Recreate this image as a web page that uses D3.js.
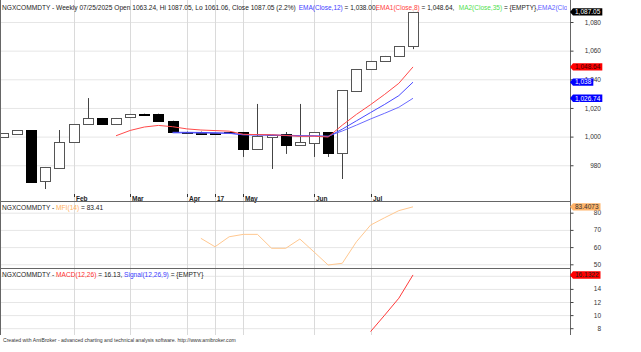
<!DOCTYPE html>
<html>
<head>
<meta charset="utf-8">
<script src="https://cdn.jsdelivr.net/npm/d3@7"></script>
<style>
body { margin: 0; background: #fff; }
svg { display: block; font-family: "Liberation Sans", Arial, sans-serif; }
</style>
</head>
<body>
<div id="chart"></div>
<script>
// weekly bars, 2025
let dates = ["01/03","01/10","01/17","01/24","01/31","02/07","02/14","02/21","02/28","03/07",
             "03/14","03/21","03/28","04/04","04/11","04/17","04/25","05/02","05/09","05/16",
             "05/23","05/30","06/06","06/13","06/20","06/27","07/04","07/11","07/18","07/25"];
let opens  = [999.7,1001.8,1004.6,969.0,978.1,996.2,1008.8,1013.0,1008.8,1013.7,
              1016.0,1016.0,1011.1,1003.5,1003.5,1002.8,1003.0,1003.2,991.3,999.7,
              1001.8,994.1,995.5,1003.2,988.6,1031.8,1047.2,1052.8,1056.3,1063.24];
let highs  = [1002.5,1004.6,1004.6,978.8,1004.6,1008.8,1026.9,1013.0,1013.0,1015.8,
              1016.0,1016.0,1011.1,1003.5,1003.5,1002.8,1003.0,1003.2,1022.8,1001.1,
              1003.2,1022.8,1003.2,1003.2,1032.5,1047.2,1052.8,1056.3,1063.2,1087.05];
let lows   = [999.7,1001.8,968.3,963.4,978.1,996.2,1008.8,1008.8,1008.8,1013.7,
              1015.6,1011.0,1003.4,1002.7,1002.3,1002.5,1002.3,985.8,991.3,977.4,
              987.9,994.1,985.8,985.8,970.4,1031.8,1047.2,1052.8,1056.3,1061.06];
let closes = [1002.5,1004.6,968.3,978.8,996.2,1008.8,1013.0,1008.8,1013.0,1015.8,
              1015.6,1011.0,1003.4,1002.7,1002.3,1002.5,1002.3,991.3,1000.4,1001.1,
              994.1,996.2,1003.2,988.6,1032.5,1047.2,1052.8,1056.3,1063.2,1087.05];

// moving averages (null = not drawn)
let ema8  = [null,null,null,null,null,null,null,null,1000.6,1004.3,
             1006.7,1007.8,1006.9,1005.4,1004.6,1004.2,1003.8,1001.6,1001.4,1001.3,
             1000.8,1000.2,1000.3,999.7,1008.0,1015.5,1022.3,1029.5,1037.2,1048.64];
let ema12 = [null,null,null,null,null,null,null,null,null,null,
             null,null,1003.0,1003.0,1002.9,1002.7,1002.4,1001.2,1001.1,1001.0,
             1000.7,1000.4,1000.4,1000.0,1005.2,1011.0,1016.8,1022.5,1028.6,1038.0];
let ema20 = [null,null,null,null,null,null,null,null,null,null,
             null,null,1002.6,1002.6,1002.5,1002.4,1002.2,1001.5,1001.3,1001.2,
             1000.9,1000.7,1000.6,1000.3,1003.9,1008.0,1012.3,1016.3,1020.5,1026.74];

let mfi  = [null,null,null,null,null,null,null,null,null,null,
            null,null,null,null,65.1,60.2,66.0,67.4,67.4,59.3,
            59.3,64.7,57.2,49.6,50.6,63.1,72.8,77.1,81.2,83.41];
let macd = [null,null,null,null,null,null,null,null,null,null,
            null,null,null,null,null,null,null,null,null,null,
            null,null,null,null,null,null,7.48,10.0,12.58,16.13];

let priceTicks = [980, 1000, 1020, 1040, 1060, 1080];
let mfiTicks = [50, 60, 70, 80];
let macdTicks = [8, 10, 12, 14, 16];
let monthIdx = [5, 9, 13, 15, 17, 22, 26];
let monthLabels = ["Feb", "Mar", "Apr", "17", "May", "Jun", "Jul"];

let width = 641, height = 352, axisX = 570, plotBottom = 335;

let svg = d3.select("#chart").append("svg")
    .attr("width", width)
    .attr("height", height);

svg.append("rect").attr("width", width).attr("height", height).attr("fill", "#fff");

let x = d3.scaleLinear().domain([0, 29]).range([2.9, 413]);
let yP = d3.scaleLinear().domain([980, 1080]).range([165.25, 22]);
let yM = d3.scaleLinear().domain([50, 80]).range([264.3, 212.7]);
let yD = d3.scaleLinear().domain([8, 16]).range([328.2, 275.8]);

let defs = svg.append("defs");
defs.append("clipPath").attr("id", "clipPrice")
  .append("rect").attr("x", 0).attr("y", 0).attr("width", axisX).attr("height", 201);
defs.append("clipPath").attr("id", "clipHead")
  .append("rect").attr("x", 0).attr("y", 0).attr("width", axisX - 3).attr("height", 20);

// horizontal grid
function hgrid(scale, ticks) {
  svg.append("g")
    .attr("transform", "translate(" + axisX + ",0)")
    .call(d3.axisRight(scale).tickValues(ticks).tickSize(-axisX).tickFormat(""))
    .call(g => g.select(".domain").remove())
    .call(g => g.selectAll("line").attr("stroke", "#e6e6e6"));
}
hgrid(yP, priceTicks);
hgrid(yM, mfiTicks);
hgrid(yD, macdTicks);

// vertical grid at month starts
svg.append("g").selectAll("line").data(monthIdx).enter()
  .append("line")
    .attr("x1", d => Math.round(x(d)) + 0.5)
    .attr("x2", d => Math.round(x(d)) + 0.5)
    .attr("y1", 0)
    .attr("y2", plotBottom)
    .attr("stroke", "#dadada");

// x labels
let xl = svg.append("g");
xl.selectAll("line").data(monthIdx).enter()
  .append("line")
    .attr("x1", d => Math.round(x(d)) + 0.5)
    .attr("x2", d => Math.round(x(d)) + 0.5)
    .attr("y1", 194).attr("y2", 197)
    .attr("stroke", "#333");
xl.selectAll("text").data(monthIdx).enter()
  .append("text")
    .attr("x", d => Math.round(x(d)) + 2)
    .attr("y", 200.5)
    .attr("fill", "#222")
    .style("font-size", "6.5px")
    .style("font-weight", "bold")
    .text((d, i) => monthLabels[i]);

// candles
let bars = svg.append("g").attr("clip-path", "url(#clipPrice)");
let bw = 10;
bars.selectAll("line").data(closes).enter()
  .append("line")
    .attr("x1", (d, i) => Math.round(x(i)) + 0.5)
    .attr("x2", (d, i) => Math.round(x(i)) + 0.5)
    .attr("y1", (d, i) => yP(highs[i]))
    .attr("y2", (d, i) => yP(lows[i]))
    .attr("stroke", "#444");
bars.selectAll("rect").data(closes).enter()
  .append("rect")
    .attr("x", (d, i) => Math.round(x(i)) - bw / 2 + 0.5)
    .attr("width", bw)
    .attr("y", (d, i) => Math.round(yP(Math.max(opens[i], d))) + 0.5)
    .attr("height", (d, i) => Math.max(1, Math.round(Math.abs(yP(opens[i]) - yP(d)))))
    .attr("fill", (d, i) => d >= opens[i] ? "#fff" : "#000")
    .attr("stroke", (d, i) => d >= opens[i] ? "#555" : "#000");

// moving averages
function drawLine(vals, scale, color, clip) {
  let line = d3.line()
    .defined(d => d != null)
    .x((d, i) => x(i))
    .y(d => scale(d));
  svg.append("path")
    .datum(vals)
    .attr("d", line)
    .attr("fill", "none")
    .attr("stroke", color)
    .attr("stroke-width", 1)
    .attr("clip-path", clip || null);
}
drawLine(ema20, yP, "#6a6aff", "url(#clipPrice)");
drawLine(ema12, yP, "#4a4aff", "url(#clipPrice)");
drawLine(ema8, yP, "#ff4a4a", "url(#clipPrice)");
drawLine(mfi, yM, "#ffc890");
drawLine(macd, yD, "#ff3a3a");

// frame
let frame = svg.append("g").attr("stroke", "#666").attr("fill", "none");
frame.append("line").attr("x1", 0.5).attr("x2", 0.5).attr("y1", 0).attr("y2", plotBottom);
frame.append("line").attr("x1", axisX + 0.5).attr("x2", axisX + 0.5).attr("y1", 0).attr("y2", plotBottom);
frame.append("line").attr("x1", 0).attr("x2", axisX).attr("y1", 201.5).attr("y2", 201.5);
frame.append("line").attr("x1", 0).attr("x2", axisX).attr("y1", 268.5).attr("y2", 268.5);

// right axes
function raxis(scale, ticks, fmt) {
  svg.append("g")
    .attr("transform", "translate(" + (axisX + 0.5) + ",0)")
    .call(d3.axisRight(scale).tickValues(ticks).tickSize(3).tickFormat(fmt))
    .call(g => g.select(".domain").remove())
    .call(g => g.selectAll("line").attr("stroke", "#444"))
    .call(g => g.selectAll("text")
      .attr("x", 30.5)
      .attr("text-anchor", "end")
      .attr("fill", "#333")
      .style("font-size", "6.5px")
      .style("font-family", "'Liberation Sans', Arial, sans-serif"));
}
raxis(yP, priceTicks, d3.format(","));
raxis(yM, mfiTicks, d3.format("d"));
// the 16 label sits fully under the value tag
raxis(yD, macdTicks, d => d === 16 ? "" : d3.format("d")(d));

// value tags on the axis
function valueTag(y, text, bg, fg) {
  let g = svg.append("g");
  let t = g.append("text")
    .attr("x", axisX + 5)
    .attr("y", y)
    .attr("dy", "0.35em")
    .attr("fill", fg)
    .style("font-size", "6.5px")
    .text(text);
  let w = t.node().getComputedTextLength();
  g.insert("path", "text")
    .attr("d", "M" + axisX + "," + y + "L" + (axisX + 3) + "," + (y - 3.7) +
      "H" + (axisX + 7 + w) + "V" + (y + 3.7) + "H" + (axisX + 3) + "Z")
    .attr("fill", bg);
}
valueTag(yP(1087.05), "1,087.05", "#000", "#fff");
valueTag(yP(1048.64), "1,048.64", "#ff0000", "#400000");
valueTag(yP(1038.0), "1,038", "#0000ff", "#fff");
valueTag(yP(1026.74), "1,026.74", "#0000ff", "#fff");
valueTag(yM(83.4073), "83.4073", "#ffb46a", "#333");
valueTag(yD(16.1322), "16.1322", "#ff0000", "#222");

// titles: parts are [text, colour, x] (x optional)
function title(y, parts, size, clip) {
  let t = svg.append("text")
    .attr("x", 2)
    .attr("y", y)
    .style("font-size", size)
    .attr("clip-path", clip || null);
  parts.forEach(p => {
    let s = t.append("tspan").attr("fill", p[1]).text(p[0]);
    if (p[2] != null) s.attr("x", p[2]);
  });
  return t;
}
let head = title(9.5, [
  ["NGXCOMMDTY - Weekly 07/25/2025 Open 1063.24, Hi 1087.05, Lo 1061.06, Close 1087.05 (2.2%)", "#222"]
], "6.6px");
// start the indicator legend just after the first part, never before x=293
let headEnd = 2 + head.node().getComputedTextLength();
let legStart = Math.max(293, headEnd + 3);
let shift = legStart - 293;
title(9.5, [
  ["EMA(Close,12)", "#4040ff", legStart], [" = 1,038.00, ", "#222"],
  ["EMA1(Close,8)", "#ff4040", 370 + shift], [" = 1,048.64, ", "#222"],
  ["MA2(Close,35)", "#50e050", 453 + shift], [" = {EMPTY}, ", "#222"],
  ["EMA2(Close", "#6060ff", 532 + shift]
], "6.5px", "url(#clipHead)");
title(209.5, [
  ["NGXCOMMDTY - ", "#222"], ["MFI(14)", "#ffb060"], [" = 83.41", "#222"]
], "6.6px");
title(276.5, [
  ["NGXCOMMDTY - ", "#222"], ["MACD(12,26)", "#ff3030"], [" = 16.13, ", "#222"],
  ["Signal(12,26,9)", "#4040ff"], [" = {EMPTY}", "#222"]
], "6.6px");

svg.append("text")
  .attr("x", 3)
  .attr("y", 342)
  .attr("fill", "#333")
  .style("font-size", "5.1px")
  .text("Created with AmiBroker - advanced charting and technical analysis software. http://www.amibroker.com");
</script>
</body>
</html>
